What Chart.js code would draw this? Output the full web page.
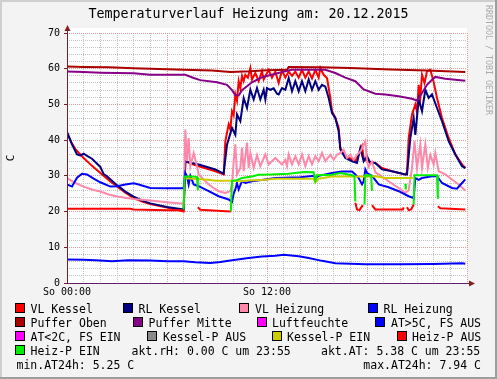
<!DOCTYPE html>
<html><head><meta charset="utf-8">
<script src="https://cdn.jsdelivr.net/npm/chart.js@4/dist/chart.umd.min.js"></script>
<style>html,body{margin:0;padding:0;background:#f3f3f3;}canvas{display:block;}</style>
</head><body>
<canvas id="c" width="497" height="379"></canvas>
<script>
// ---------- texts ----------
const TITLE = 'Temperaturverlauf Heizung am: 20.12.2015';
const UNIT = 'C';
const WATERMARK = 'RRDTOOL / TOBI OETIKER';
const xTickLabels = {0: 'So 00:00', 12: 'So 12:00'};
const Y_MIN = 0, Y_MAX = 70, Y_STEP = 2, Y_MAJOR = 10;
const X_MIN = 0, X_MAX = 24, X_STEP = 1, X_MAJOR = 6;

const legendNames = ['VL Kessel','RL Kessel','VL Heizung','RL Heizung','Puffer Oben','Puffer Mitte','Luftfeuchte','AT>5C, FS AUS','AT<2C, FS EIN','Kessel-P AUS','Kessel-P EIN','Heiz-P AUS','Heiz-P EIN'];
const legendColors = ['#ff0000','#000080','#ff88aa','#0000ff','#aa0000','#880088','#ff00ff','#0000ff','#ff00ff','#888888','#cccc00','#ff0000','#00ee00'];
const statTexts = ['akt.rH: 0.00 C um 23:55', 'akt.AT: 5.38 C um 23:55', 'min.AT24h: 5.25 C', 'max.AT24h: 7.94 C'];

// ---------- data: [hour, value] (null = gap) ----------
const vlKessel = [[0,42],[0.25,39.5],[0.5,37.5],[1,35],[1.5,32.8],[2,30.8],[2.6,28.4],[3,27],[3.5,25.3],[4,23.8],[4.5,22.8],[5,22.1],[6,21.1],[6.5,20.6],[7.0,20.0],
 [7.1,34.1],[7.5,33.3],[7.9,32.7],[8.4,32],[8.9,31.3],[9.4,30.4],[9.5,39.7],[9.7,44.4],[9.8,43],[9.9,48.1],[10.0,47],[10.1,52.8],[10.2,51],[10.3,56.5],[10.4,54.5],[10.5,58],[10.6,56.5],[10.7,58.3],[10.85,57.5],[11.0,60.2],[11.1,57],[11.3,58.8],[11.5,56.5],[11.7,59.3],[11.8,57],[12.1,59.7],[12.3,57.5],[12.5,59.2],[12.7,56],[12.9,59.5],[13.1,57.5],[13.3,59.2],[13.5,58],[13.7,59.2],[13.9,57.5],[14.1,59.7],[14.3,57.5],[14.5,59.3],[14.7,57.3],[14.9,59.7],[15.1,57.5],[15.2,60.2],[15.4,58.3],[15.6,57.4],[15.8,51.8],[15.9,48.1],[16.1,46.2],[16.3,43.4],[16.4,37.8],[16.7,35.5],[17.1,34.6],[17.3,34.1],[17.5,36],[17.7,38.3],[17.8,35],[18.0,34.1],[18.5,33.6],[18.9,32.2],[19.5,31.3],[20.3,30.4],[20.4,31],[20.5,40.6],[20.7,47.2],[20.9,50],[21.0,48],[21.1,55.5],[21.2,52],[21.3,58.3],[21.45,56],[21.6,59.3],[21.8,59.7],[22.0,56.3],[22.2,51.8],[22.5,46.2],[22.9,40.6],[23.3,36],[23.7,33.2],[23.9,32.2]];
const rlKessel = [[0,42.3],[0.3,38.8],[0.6,36],[0.8,35.7],[1.0,36.2],[1.2,35.6],[1.5,34.8],[2.0,32.5],[2.2,30.5],[2.4,29.9],[3,27.4],[3.5,25.6],[4,24.2],[4.5,23.1],[5,22.3],[6,21.3],[7.0,20.6],
 [7.1,34.1],[7.5,33.6],[7.9,33.2],[8.4,32.5],[8.9,31.8],[9.4,30.6],[9.6,38.7],[9.9,43.4],[10.1,41.5],[10.2,47.2],[10.4,45.3],[10.6,51.8],[10.8,49],[11.0,54.1],[11.2,51.4],[11.4,54.6],[11.6,51.4],[11.8,54.1],[11.9,51.4],[12.0,54.6],[12.2,54.1],[12.4,54.5],[12.6,53],[12.7,52.8],[12.9,54.6],[13.1,54.1],[13.3,57.4],[13.5,53.7],[13.7,56.5],[13.9,53.7],[14.1,56.5],[14.3,53.7],[14.5,57],[14.7,54.1],[14.9,56.5],[15.1,54.1],[15.3,55.5],[15.5,55],[15.7,51.8],[15.9,47.6],[16.1,46.2],[16.3,42.5],[16.4,37.4],[16.7,35],[17.1,34.1],[17.4,33.6],[17.6,37.8],[17.8,34.1],[18.0,35.5],[18.2,33.6],[18.5,33.6],[18.9,31.8],[19.5,31.3],[20.3,30.4],[20.4,30.4],[20.6,40.6],[20.8,46.2],[20.9,41.5],[21.1,51.4],[21.3,48.1],[21.5,54.1],[21.7,51.8],[21.9,52.8],[22.2,49],[22.5,45.3],[22.9,39.7],[23.3,36],[23.7,32.7],[23.9,32.2]];
const vlHeizung = [[0,29.4],[0.5,28],[1,27],[1.5,26.2],[2,25.6],[2.5,24.8],[3,24.2],[4,23.5],[5,23.1],[6,22.6],[7.0,22.2],
 [7.1,43],[7.2,34.1],[7.3,40.6],[7.4,32.7],[7.6,36.4],[7.8,32.7],[7.9,30.4],[8.2,29],[8.5,27.6],[8.8,26.6],[9.1,25.7],[9.5,25.2],[9.8,25.7],[9.9,27.6],[10.0,34],[10.1,38.8],[10.2,30.4],[10.4,32.2],[10.5,37.9],[10.6,31.3],[10.8,39.3],[10.9,32.2],[11.0,36.4],[11.2,32.2],[11.4,35.8],[11.6,32.7],[11.9,36],[12.1,33.2],[12.3,34.1],[12.5,35],[12.7,34.1],[12.9,33.2],[13.1,34.5],[13.2,32.7],[13.3,36],[13.5,33.2],[13.7,35.5],[13.9,33.2],[14.1,36],[14.3,32.7],[14.5,35.5],[14.7,33.2],[14.9,35.5],[15.1,34.1],[15.3,36.4],[15.5,34.1],[15.8,35.9],[16.0,34.5],[16.2,35.9],[16.4,36.4],[16.6,37.3],[16.8,35],[17.0,35.9],[17.2,34.5],[17.4,35.9],[17.6,36.8],[17.8,38.7],[17.9,39.7],[18.0,34.1],[18.1,32.5],[18.3,34],[18.5,31],[18.7,30.4],[19.0,29.4],[19.3,28.5],[19.6,27.5],[19.9,26.6],[20.3,25.2],[20.5,26],[20.7,32.2],[20.85,39.7],[21.0,32.2],[21.2,38.8],[21.3,32.2],[21.5,38.8],[21.65,32.2],[21.8,35.9],[22.0,33.2],[22.1,36.4],[22.3,31.3],[22.7,30.4],[23.1,29],[23.5,27.6],[23.9,25.9]];
const rlHeizung = [[0,27.6],[0.3,27.0],[0.6,29.5],[0.9,30.6],[1.2,30.4],[1.6,29.2],[2.0,28.2],[2.6,27.0],[3.0,27.1],[3.5,27.6],[4.0,27.9],[4.3,27.6],[5.0,26.6],[6.0,26.5],[7.0,26.5],
 [7.1,30.8],[7.2,29.9],[7.3,27.6],[7.4,30],[7.6,27.6],[7.9,27.1],[8.5,25.7],[9.1,24.3],[9.7,23.4],[9.9,22.7],[10.0,25],[10.1,26.2],[10.2,28],[10.3,26.2],[10.5,28.5],[10.7,28],[11.1,28.5],[11.9,29],[12.5,29.4],[13.0,29.5],[14.0,29.6],[14.8,30],[14.9,29.4],[15.1,30],[15.9,30.8],[16.5,31.2],[17.1,31.2],[17.3,30.4],[17.5,29.4],[17.7,27.6],[17.8,28.5],[17.9,31.8],[18.0,30.8],[18.3,30],[18.7,27.6],[19.3,26.8],[19.9,25.7],[20.5,24.3],[20.8,23.8],[20.9,29.4],[21.1,28.9],[21.3,29.4],[21.9,29.9],[22.2,29.9],[22.5,28],[23.1,26.6],[23.4,26.4],[23.7,28],[23.9,29]];
const pufferOben = [[0,60.6],[1,60.5],[2.5,60.4],[4,60.1],[5.5,59.9],[7,59.7],[8.7,59.5],[9.8,59.1],[11,59.3],[12,59.6],[13.2,59.7],[13.3,60.5],[15.2,60.4],[17,60.2],[19.4,59.8],[21.6,59.5],[23.9,59.1]];
const pufferMitte = [[0,59.2],[1,59.1],[2,58.9],[4,58.7],[5,58.3],[7.1,58.3],[7.6,57.4],[8,56.8],[9,56.2],[9.6,55.5],[9.9,54],[10.1,52.6],[10.3,52.5],[10.5,54],[11.1,56.2],[11.7,57.6],[12.5,58.6],[13.1,59.3],[13.5,59.7],[15.5,59.7],[16.1,58.8],[16.7,57.5],[17.3,56.5],[17.8,54.2],[18.5,53],[19.1,52.8],[19.9,52.3],[20.7,51.6],[21,51.1],[21.3,53.2],[21.6,55.5],[21.9,56.9],[22.1,57.7],[22.7,57.2],[23.9,56.6]];
const aussenTemp = [[0,6.6],[1,6.5],[2,6.3],[2.7,6.1],[3.7,6.4],[5,6.3],[6,6.1],[7,6.1],[7.7,5.8],[8.6,5.6],[9.2,5.9],[9.9,6.4],[10.9,7],[11.7,7.4],[12.5,7.6],[13,7.9],[13.9,7.5],[14.5,7],[15.3,6.2],[16.1,5.5],[17,5.4],[17.9,5.25],[20,5.25],[22,5.3],[23.7,5.5],[23.9,5.38]];
const kesselPEin = [[7.1,29.3],[7.8,29.1],[8.5,28.9],[8.9,28.6],[9.9,28.6],[10.4,28.5],[10.9,28.7],[11.9,28.9],[12.5,29.2],[13.9,29.2],[14.8,29.2],[14.9,28.2],[15.1,29.2],[15.9,29.8],[17.9,29.8],[18.5,29.9],[19.1,29.4],[20.3,29.4],[20.75,29.4]];
const heizPAus = [[0,20.8],[3.8,20.8],[4.0,20.6],[6.0,20.4],[7.0,20.4],[7.01,null],[7.85,21.2],[8.0,20.5],[9.0,20.2],[9.83,20.0],[9.84,null],[17.3,22.5],[17.4,20.6],[17.55,20.4],[17.75,21.8],[17.76,null],[18.3,21.8],[18.5,20.6],[20.15,20.6],[20.2,21.2],[20.21,null],[20.4,21.2],[20.5,20.4],[20.65,20.6],[20.8,22.0],[20.81,null],[22.25,21.5],[22.4,20.9],[23.9,20.6]];
const heizPEin = [[7.0,20.6],[7.05,29.8],[7.5,29.8],[7.8,29.7],[7.85,26.0],[7.86,null],[9.83,20.0],[9.9,28.6],[10.2,28.8],[10.5,29.4],[11.1,29.8],[11.5,30.3],[12.3,30.4],[13.3,30.6],[14.2,31.1],[14.8,31.0],[14.9,28.6],[15.0,30.2],[15.9,30.3],[16.4,30.8],[17.1,30.2],[17.25,29.8],[17.3,22.8],[17.31,null],[17.85,22.0],[17.9,30.2],[18.25,30.1],[18.3,25.8],[18.31,null],[20.3,27.8],[20.33,26.2],[20.34,null],[20.8,22.0],[20.85,30.2],[22.2,30.2],[22.25,23.6]];

const seriesData = {
  'VL Kessel': vlKessel, 'RL Kessel': rlKessel, 'VL Heizung': vlHeizung, 'RL Heizung': rlHeizung,
  'Puffer Oben': pufferOben, 'Puffer Mitte': pufferMitte, 'AT>5C, FS AUS': aussenTemp,
  'Kessel-P EIN': kesselPEin, 'Heiz-P AUS': heizPAus, 'Heiz-P EIN': heizPEin
};

const MONO = "'DejaVu Sans Mono', 'Liberation Mono', monospace";
const datasets = [];
legendNames.forEach((name, i) => {
  const d = seriesData[name];
  if (!d) return;
  datasets.push({
    label: name,
    data: d.map(p => ({x: p[0], y: p[1]})),
    borderColor: legendColors[i],
    backgroundColor: legendColors[i],
    borderWidth: 2,
    pointRadius: 0,
    tension: 0,
    fill: false,
    spanGaps: false,
    order: 100 - i
  });
});

const decor = {
  id: 'decor',
  beforeDraw(chart) {
    const c = chart.ctx, a = chart.chartArea, W = chart.width, H = chart.height;
    c.save();
    c.fillStyle = '#f3f3f3'; c.fillRect(0, 0, W, H);
    c.fillStyle = '#cfcfcf'; c.fillRect(0, 0, W, 2); c.fillRect(0, 0, 2, H);
    c.fillStyle = '#9e9e9e'; c.fillRect(0, H - 2, W, 2); c.fillRect(W - 2, 0, 2, H);
    c.fillStyle = '#ffffff'; c.fillRect(a.left, a.top - 5, a.right - a.left, a.bottom - a.top + 5);
    c.restore();
  },
  afterDraw(chart) {
    const c = chart.ctx, a = chart.chartArea, W = chart.width;
    c.save();
    // axes
    c.lineWidth = 1;
    c.strokeStyle = '#7a1f2a';
    c.beginPath(); c.moveTo(a.left + 0.5, a.bottom); c.lineTo(a.left + 0.5, a.top - 5); c.stroke();
    c.strokeStyle = '#5e2167';
    c.beginPath(); c.moveTo(a.left, a.bottom + 0.5); c.lineTo(a.right + 3, a.bottom + 0.5); c.stroke();
    c.fillStyle = '#8b1a1a';
    c.beginPath(); c.moveTo(a.left + 0.5, a.top - 8); c.lineTo(a.left - 2.5, a.top - 2); c.lineTo(a.left + 3.5, a.top - 2); c.closePath(); c.fill();
    c.beginPath(); c.moveTo(a.right + 8, a.bottom + 0.5); c.lineTo(a.right + 2, a.bottom - 2.5); c.lineTo(a.right + 2, a.bottom + 3.5); c.closePath(); c.fill();
    // title
    c.fillStyle = '#000';
    c.font = '13.3px ' + MONO;
    c.textAlign = 'center'; c.textBaseline = 'alphabetic';
    c.fillText(TITLE, W / 2, 18);
    // unit label
    c.save();
    c.font = '11px ' + MONO;
    c.translate(14, (a.top + a.bottom) / 2);
    c.rotate(-Math.PI / 2);
    c.textAlign = 'center';
    c.fillText(UNIT, 0, 0);
    c.restore();
    // watermark
    c.save();
    c.font = '8.3px ' + MONO;
    c.fillStyle = '#aaaaaa';
    c.translate(486, 5);
    c.rotate(Math.PI / 2);
    c.textAlign = 'left';
    c.fillText(WATERMARK, 0, 0);
    c.restore();
    // legend
    c.font = '11.5px ' + MONO;
    c.textAlign = 'left';
    const rows = [313, 327, 341, 355, 369];
    const slots = [
      [0, 15, 30.5, 0], [1, 123, 138.5, 0], [2, 239, 255, 0], [3, 368, 383.5, 0],
      [4, 15, 30.5, 1], [5, 133, 148.5, 1], [6, 257, 272, 1], [7, 375, 391, 1],
      [8, 15, 30.5, 2], [9, 147, 163, 2], [10, 272, 287, 2], [11, 397, 412, 2],
      [12, 15, 30.5, 3]
    ];
    slots.forEach(([i, sx, tx, r]) => {
      const b = rows[r];
      c.fillStyle = legendColors[i];
      c.fillRect(sx, b - 9, 9, 9);
      c.strokeStyle = '#000'; c.lineWidth = 1;
      c.strokeRect(sx + 0.5, b - 9.5, 9, 9);
      c.fillStyle = '#000';
      c.fillText(legendNames[i], tx, b);
    });
    c.fillText(statTexts[0], 131.5, rows[3]);
    c.fillText(statTexts[1], 321, rows[3]);
    c.fillText(statTexts[2], 16.5, rows[4]);
    c.textAlign = 'right';
    c.fillText(statTexts[3], 481, rows[4]);
    c.restore();
  }
};

const majorGrid = '#e49a9a', minorGrid = '#c4c4c4';
new Chart(document.getElementById('c'), {
  type: 'line',
  data: { datasets },
  options: {
    responsive: false, animation: false, devicePixelRatio: 1,
    layout: { padding: { left: 0, right: 30, top: 33, bottom: 76 } },
    plugins: { legend: { display: false }, tooltip: { enabled: false }, title: { display: false } },
    scales: {
      x: {
        type: 'linear', min: X_MIN, max: X_MAX,
        afterFit: s => { s.height = 20; },
        ticks: { stepSize: X_STEP, autoSkip: false, maxRotation: 0, color: '#000', padding: 3,
          font: { family: MONO, size: 10 },
          callback: v => xTickLabels[v] || '' },
        grid: { drawTicks: false, lineWidth: 1,
          color: ctx => (ctx.tick && ctx.tick.value % X_MAJOR === 0) ? majorGrid : minorGrid },
        border: { display: false, dash: [1, 1] }
      },
      y: {
        type: 'linear', min: Y_MIN, max: Y_MAX,
        afterFit: s => { s.width = 67; },
        ticks: { stepSize: Y_STEP, autoSkip: false, color: '#000', padding: 4,
          font: { family: MONO, size: 10 },
          callback: v => (v % Y_MAJOR === 0) ? String(v) : '' },
        grid: { drawTicks: true, tickLength: 3, lineWidth: 1,
          color: ctx => (ctx.tick && ctx.tick.value % Y_MAJOR === 0) ? majorGrid : minorGrid,
          tickColor: ctx => (ctx.tick && ctx.tick.value % Y_MAJOR === 0) ? '#7a1f2a' : 'rgba(0,0,0,0)' },
        border: { display: false, dash: [1, 1] }
      }
    }
  },
  plugins: [decor]
});
</script>
</body></html>
